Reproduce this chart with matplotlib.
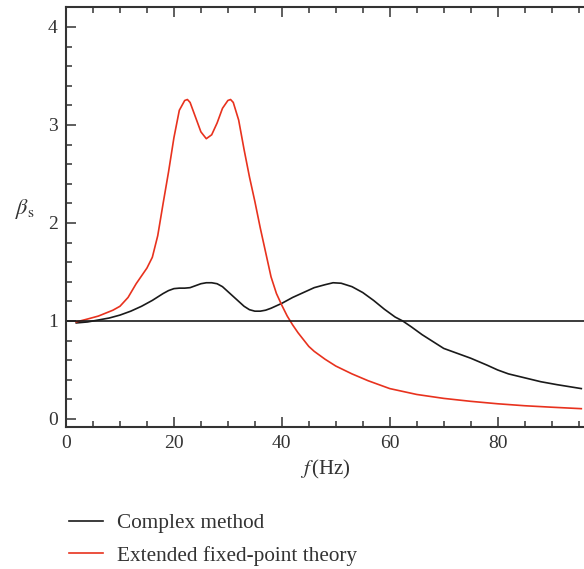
import numpy as np
import matplotlib
matplotlib.use("Agg")
import matplotlib.pyplot as plt
from matplotlib.ticker import MultipleLocator

plt.rcParams['font.family'] = ['Liberation Serif', 'DejaVu Serif']
plt.rcParams['mathtext.fontset'] = 'stix'

# Complex method
f_complex = [1.9, 4, 6, 8, 10, 12, 14, 16, 18, 19, 20, 21, 22, 23, 24, 25, 26, 27, 28, 29,
             30, 31, 32, 33, 34, 35, 36, 37, 38, 40, 42, 44, 46, 48, 49.5, 51, 53, 55, 57, 59,
             61, 62.4, 64, 66, 68, 70, 72, 75, 78, 80, 82, 85, 88, 91, 95.5]
beta_complex = [0.98, 0.99, 1.01, 1.03, 1.06, 1.10, 1.15, 1.21, 1.28, 1.31, 1.33, 1.335, 1.335,
                1.34, 1.36, 1.38, 1.39, 1.39, 1.38, 1.35, 1.30, 1.25, 1.20, 1.15, 1.115, 1.10,
                1.10, 1.11, 1.13, 1.18, 1.24, 1.29, 1.34, 1.37, 1.39, 1.385, 1.35, 1.29, 1.21,
                1.12, 1.04, 1.0, 0.94, 0.86, 0.79, 0.72, 0.68, 0.62, 0.55, 0.50, 0.46, 0.42,
                0.38, 0.35, 0.31]

# Extended fixed-point theory
f_efpt = [1.9, 4, 6, 8.7, 10, 11.5, 13, 14, 15, 16, 17, 18, 19, 20, 21, 22, 22.5, 23, 24, 25,
          26, 27, 28, 29, 30, 30.5, 31, 32, 33, 34, 35, 36, 37, 38, 39, 40, 41, 42, 43, 44,
          45, 46, 48, 50, 53, 56, 60, 65, 70, 75, 80, 85, 90, 95.5]
beta_efpt = [0.99, 1.02, 1.05, 1.11, 1.15, 1.24, 1.38, 1.46, 1.54, 1.65, 1.87, 2.2, 2.52, 2.87,
             3.15, 3.25, 3.26, 3.23, 3.08, 2.93, 2.86, 2.90, 3.02, 3.17, 3.25, 3.26, 3.23, 3.05,
             2.75, 2.47, 2.22, 1.95, 1.7, 1.45, 1.28, 1.16, 1.05, 0.96, 0.88, 0.81, 0.74, 0.69,
             0.61, 0.54, 0.46, 0.39, 0.31, 0.25, 0.21, 0.18, 0.155, 0.135, 0.12, 0.105]

ref_level = 1.0

fig = plt.figure(figsize=(5.84, 5.69), dpi=100)
ax = fig.add_axes([66 / 584, 1 - 427 / 569, 518 / 584, (427 - 7) / 569])

line_c, = ax.plot(f_complex, beta_complex, color='#1a1a1a', lw=1.2, label='Complex method')
line_e, = ax.plot(f_efpt, beta_efpt, color='#e8321e', lw=1.2, label='Extended fixed-point theory')
ax.axhline(ref_level, color='#1a1a1a', lw=1.2)

ax.set_xlim(0, 96)
ax.set_ylim(-0.082, 4.204)
ax.xaxis.set_major_locator(MultipleLocator(20))
ax.xaxis.set_minor_locator(MultipleLocator(5))
ax.yaxis.set_major_locator(MultipleLocator(1))
ax.yaxis.set_minor_locator(MultipleLocator(0.2))
ax.tick_params(which='both', direction='in', top=True, right=False, colors='#333333',
               labelsize=14, width=1.1)
ax.tick_params(which='major', length=7, pad=6)
ax.tick_params(which='minor', length=4)
for s in ['left', 'bottom', 'top']:
    ax.spines[s].set_color('#333333')
    ax.spines[s].set_linewidth(1.5)
ax.spines['right'].set_visible(False)

ax.set_xlabel(r'$f\,$(Hz)', fontsize=15, color='#333333', labelpad=4)
ax.set_ylabel(r'$\beta_{\rm s}$', fontsize=16, color='#333333', rotation=0)
ax.yaxis.set_label_coords(-0.08, 0.49)

fig.legend(handles=[line_c, line_e], loc='upper left', bbox_to_anchor=(50 / 584, 1 - 494 / 569),
           frameon=False, fontsize=15.3, handlelength=1.6, handletextpad=0.65, labelspacing=0.6,
           labelcolor='#333333')

fig.savefig('out.png', dpi=100)
